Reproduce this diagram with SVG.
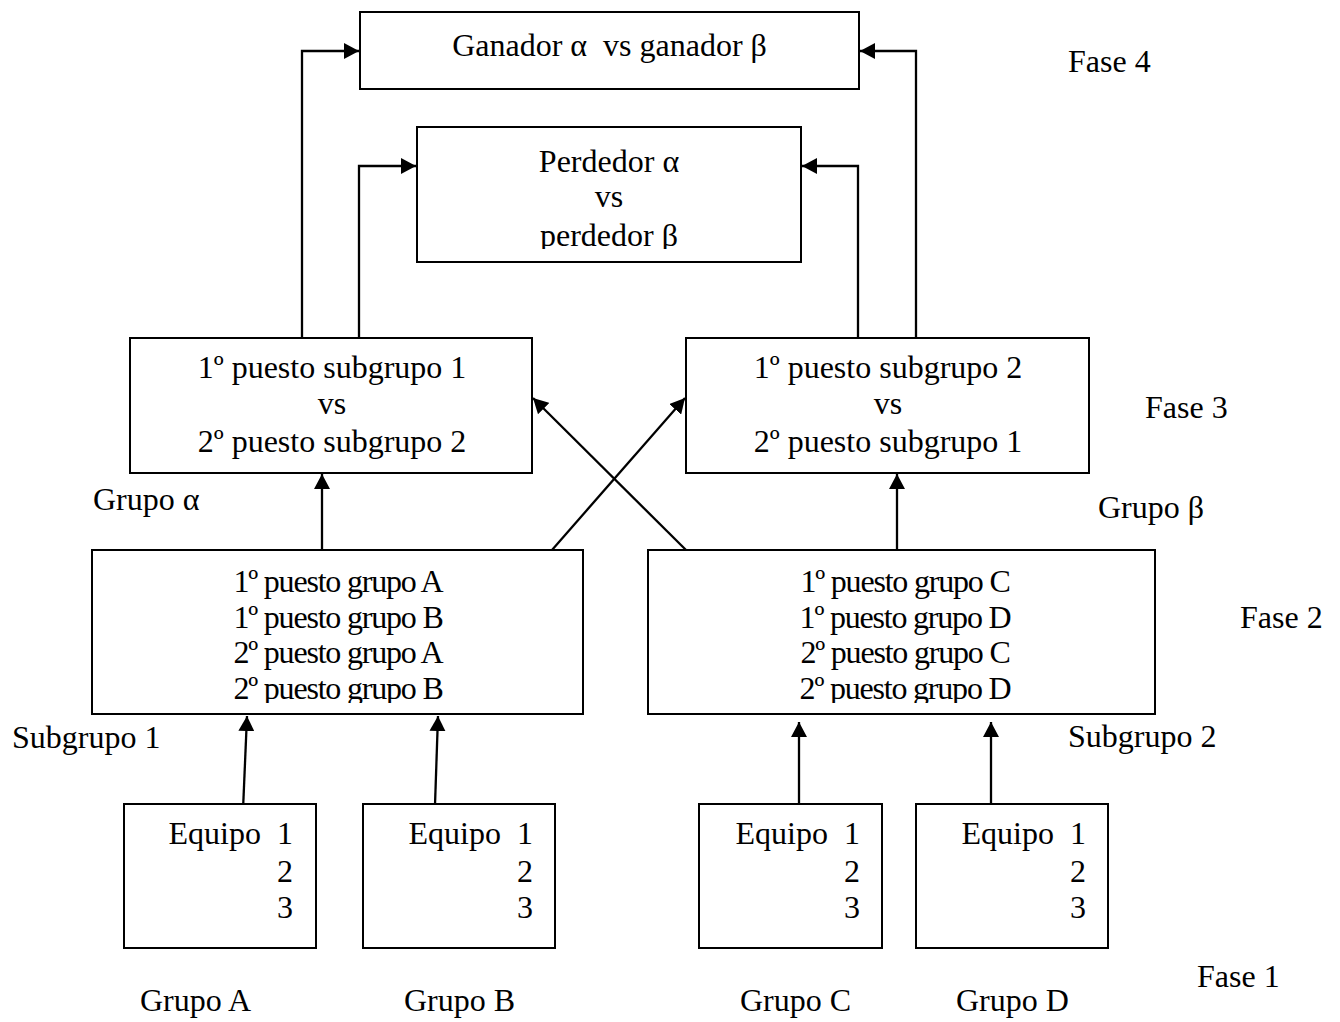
<svg xmlns="http://www.w3.org/2000/svg" width="1340" height="1022" viewBox="0 0 1340 1022">
  <style>
    .box { fill: #ffffff; stroke: #000000; stroke-width: 2; }
    .t { font-family: "Liberation Serif", "Times New Roman", serif; font-size: 32px; fill: #000000; }
    .c { text-anchor: middle; }
    .e { text-anchor: end; }
    .cond { letter-spacing: -1.2px; }
    .conn { fill: none; stroke: #000000; stroke-width: 2.3; marker-end: url(#arrow); }
  </style>
  <defs>
    <marker id="arrow" markerUnits="userSpaceOnUse" markerWidth="16" markerHeight="16" refX="15" refY="8" orient="auto">
      <path d="M0,0 L15,8 L0,16 Z" fill="#000000"/>
    </marker>
    <clipPath id="clipPerdedor"><rect x="417" y="127" width="384" height="122"/></clipPath>
    <clipPath id="clipSub1"><rect x="92" y="550" width="491" height="153"/></clipPath>
    <clipPath id="clipSub2"><rect x="648" y="550" width="507" height="153"/></clipPath>
  </defs>
  <rect width="1340" height="1022" fill="#ffffff"/>

  <g id="connectors">
    <path class="conn" d="M302,338 V51 H359"/>
    <path class="conn" d="M916,338 V51 H860"/>
    <path class="conn" d="M359,338 V166 H416"/>
    <path class="conn" d="M858,338 V166 H802"/>
    <path class="conn" d="M322,550 V474"/>
    <path class="conn" d="M897,550 V474"/>
    <path class="conn" d="M552,550 L685,398"/>
    <path class="conn" d="M686,550 L533,398"/>
    <path class="conn" d="M243,810 L247,716"/>
    <path class="conn" d="M435,805 L438,716"/>
    <path class="conn" d="M799,812 L799,722"/>
    <path class="conn" d="M991,812 L991,722"/>
  </g>

  <g id="final">
    <rect class="box" x="360" y="12" width="499" height="77"/>
    <text class="t c" x="609.5" y="56" xml:space="preserve">Ganador α  vs ganador β</text>
  </g>

  <g id="tercer-puesto">
    <rect class="box" x="417" y="127" width="384" height="135"/>
    <g clip-path="url(#clipPerdedor)">
      <text class="t c" x="609" y="172">Perdedor α</text>
      <text class="t c" x="609" y="207">vs</text>
      <text class="t c" x="609" y="246">perdedor β</text>
    </g>
  </g>

  <g id="grupo-alfa">
    <rect class="box" x="130" y="338" width="402" height="135"/>
    <text class="t c" x="332" y="378">1º puesto subgrupo 1</text>
    <text class="t c" x="332" y="414">vs</text>
    <text class="t c" x="332" y="452">2º puesto subgrupo 2</text>
  </g>

  <g id="grupo-beta">
    <rect class="box" x="686" y="338" width="403" height="135"/>
    <text class="t c" x="888" y="378">1º puesto subgrupo 2</text>
    <text class="t c" x="888" y="414">vs</text>
    <text class="t c" x="888" y="452">2º puesto subgrupo 1</text>
  </g>

  <g id="subgrupo-1">
    <rect class="box" x="92" y="550" width="491" height="164"/>
    <g clip-path="url(#clipSub1)">
      <text class="t c cond" x="338" y="592">1º puesto grupo A</text>
      <text class="t c cond" x="338" y="627.5">1º puesto grupo B</text>
      <text class="t c cond" x="338" y="663">2º puesto grupo A</text>
      <text class="t c cond" x="338" y="698.5">2º puesto grupo B</text>
    </g>
  </g>

  <g id="subgrupo-2">
    <rect class="box" x="648" y="550" width="507" height="164"/>
    <g clip-path="url(#clipSub2)">
      <text class="t c cond" x="905" y="592">1º puesto grupo C</text>
      <text class="t c cond" x="905" y="627.5">1º puesto grupo D</text>
      <text class="t c cond" x="905" y="663">2º puesto grupo C</text>
      <text class="t c cond" x="905" y="698.5">2º puesto grupo D</text>
    </g>
  </g>

  <g id="grupo-A">
    <rect class="box" x="124" y="804" width="192" height="144"/>
    <text class="t e" x="293" y="844" xml:space="preserve">Equipo  1</text>
    <text class="t e" x="293" y="882">2</text>
    <text class="t e" x="293" y="918">3</text>
  </g>
  <g id="grupo-B">
    <rect class="box" x="363" y="804" width="192" height="144"/>
    <text class="t e" x="533" y="844" xml:space="preserve">Equipo  1</text>
    <text class="t e" x="533" y="882">2</text>
    <text class="t e" x="533" y="918">3</text>
  </g>
  <g id="grupo-C">
    <rect class="box" x="699" y="804" width="183" height="144"/>
    <text class="t e" x="860" y="844" xml:space="preserve">Equipo  1</text>
    <text class="t e" x="860" y="882">2</text>
    <text class="t e" x="860" y="918">3</text>
  </g>
  <g id="grupo-D">
    <rect class="box" x="916" y="804" width="192" height="144"/>
    <text class="t e" x="1086" y="844" xml:space="preserve">Equipo  1</text>
    <text class="t e" x="1086" y="882">2</text>
    <text class="t e" x="1086" y="918">3</text>
  </g>

  <g id="labels">
    <text class="t" x="1068" y="72">Fase 4</text>
    <text class="t" x="1145" y="418">Fase 3</text>
    <text class="t" x="93" y="510">Grupo α</text>
    <text class="t" x="1098" y="518">Grupo β</text>
    <text class="t" x="1240" y="628">Fase 2</text>
    <text class="t" x="12" y="748">Subgrupo 1</text>
    <text class="t" x="1068" y="747">Subgrupo 2</text>
    <text class="t" x="1197" y="987">Fase 1</text>
    <text class="t" x="140" y="1011">Grupo A</text>
    <text class="t" x="404" y="1011">Grupo B</text>
    <text class="t" x="740" y="1011">Grupo C</text>
    <text class="t" x="956" y="1011">Grupo D</text>
  </g>
</svg>
